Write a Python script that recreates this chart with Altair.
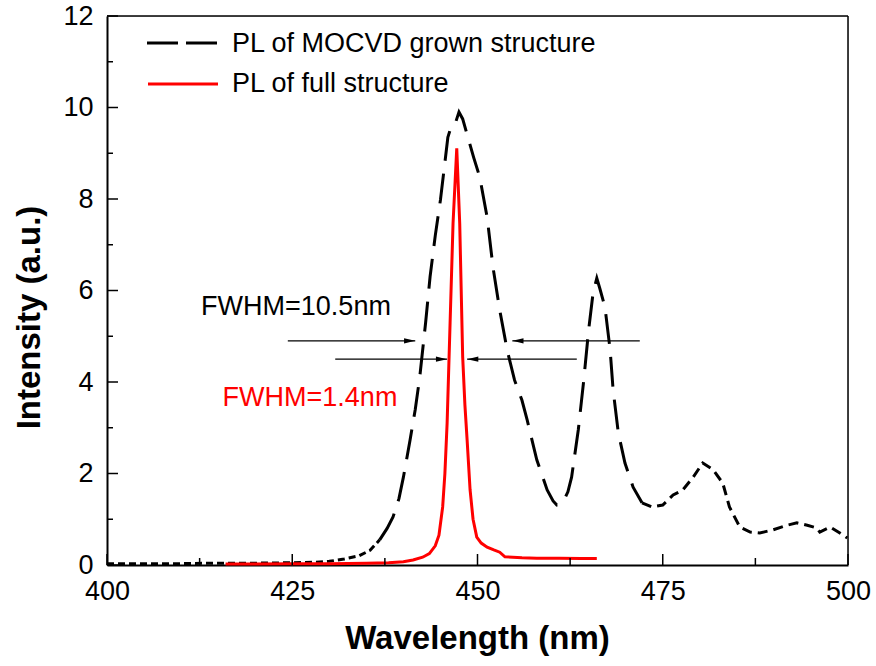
import altair as alt
import pandas as pd

# PL spectrum of the MOCVD grown structure (wavelength in nm, intensity in a.u.)
mocvd_wl = [400, 405, 410, 415, 420, 425, 428, 430, 432, 434, 435.5, 436.8, 437.8,
            438.6, 439.4, 440, 440.9, 441.6, 442.2, 443, 443.6, 444.3, 445, 445.6,
            446, 446.6, 447.1, 447.5, 448, 448.7, 449.5, 450.3, 451.3, 452.1, 453,
            454, 455, 456, 456.7, 458, 459.4, 460.2, 460.7, 461.5, 462.2, 462.7,
            463.6, 464.3, 465, 465.6, 466.1, 466.5, 467.2, 467.9, 468.3, 469, 469.9,
            471, 472.2, 473.5, 475, 476.4, 477.7, 479.1, 480.4, 481.8, 483.1, 484,
            485.4, 486.8, 488.1, 489.9, 491.8, 493.1, 494.5, 495.8, 496.2, 497.6,
            498.9, 499.9]
mocvd_int = [0.03, 0.03, 0.03, 0.04, 0.04, 0.05, 0.06, 0.08, 0.13, 0.2, 0.32, 0.55, 0.8,
             1.05, 1.45, 1.92, 2.73, 3.4, 4.1, 5.3, 6.3, 7.2, 7.98, 8.8,
             9.35, 9.66, 9.7, 9.9, 9.75, 9.35, 8.9, 8.48, 7.6, 6.5, 5.57,
             4.7, 4.04, 3.6, 3.17, 2.3, 1.64, 1.4, 1.31, 1.36, 1.6, 1.92,
             2.95, 3.98, 5.14, 5.95, 6.27, 6.05, 5.64, 4.7, 3.83, 2.89, 2.23,
             1.7, 1.36, 1.27, 1.31, 1.53, 1.64, 1.92, 2.23, 2.08, 1.79, 1.27,
             0.83, 0.72, 0.70, 0.77, 0.87, 0.92, 0.87, 0.81, 0.72, 0.83,
             0.70, 0.59]

# PL spectrum of the full structure
full_wl = [416, 420, 425, 430, 435, 438, 440, 441.3, 442.6, 443.5, 444.3, 444.8, 445.3,
           445.6, 445.9, 446.3, 446.7, 447.2, 447.6, 448.0, 448.3, 448.6, 449, 449.4,
           449.9, 450.5, 451.3, 452.2, 453, 453.7, 456, 458, 461, 464, 466.1]
full_int = [0.02, 0.02, 0.03, 0.03, 0.04, 0.05, 0.07, 0.11, 0.17, 0.25, 0.42, 0.65, 1.27,
            2.0, 3.1, 5.29, 7.47, 9.11, 7.47, 4.55, 3.5, 2.73, 1.64, 1.0,
            0.61, 0.48, 0.39, 0.33, 0.28, 0.18, 0.16, 0.15, 0.15, 0.14, 0.14]

# FWHM markers: arrow row height, tail and tip wavelengths
arrow_y = [4.9, 4.9, 4.5, 4.5]
arrow_from = [424.4, 471.9, 430.8, 463.4]
arrow_to = [441.6, 454.7, 445.9, 448.6]

# FWHM labels
note_text = ["FWHM=10.5nm", "FWHM=1.4nm"]
note_x = [412.7, 415.6]
note_y = [5.64, 3.65]
note_color = ["#000000", "#ff0000"]

legend_labels = ["PL of MOCVD grown structure", "PL of full structure"]

x_major = [400, 425, 450, 475, 500]
x_minor = [412.5, 437.5, 462.5, 487.5]
y_major = [0, 2, 4, 6, 8, 10, 12]
y_minor = [1, 3, 5, 7, 9, 11]

W, H = 741, 549
FONT = "Liberation Sans"

mocvd = pd.DataFrame({"wl": mocvd_wl, "inten": mocvd_int})
full = pd.DataFrame({"wl": full_wl, "inten": full_int})
arrows = pd.DataFrame({"y": arrow_y, "x0": arrow_from, "x1": arrow_to})
arrows["dir"] = ["right" if b > a else "left" for a, b in zip(arrow_from, arrow_to)]
notes = pd.DataFrame({"t": note_text, "x": note_x, "y": note_y, "c": note_color})

xs = alt.Scale(domain=[400, 500], nice=False, zero=False)
ys = alt.Scale(domain=[0, 12], nice=False, zero=False)

x_axis = alt.Axis(values=x_major, grid=False, ticks=False, domain=True, domainWidth=2,
                  domainColor="black", labelFont=FONT, labelFontSize=27, labelColor="black",
                  labelPadding=13, labelFlush=False, title="Wavelength (nm)",
                  titleFont=FONT, titleFontSize=33, titleFontWeight="bold",
                  titleColor="black", titleX=370, titleY=73, titleBaseline="middle")
y_axis = alt.Axis(values=y_major, grid=False, ticks=False, domain=True, domainWidth=2,
                  domainColor="black", labelFont=FONT, labelFontSize=27, labelColor="black",
                  labelPadding=14, labelFlush=False, title="Intensity (a.u.)",
                  titleFont=FONT, titleFontSize=33, titleFontWeight="bold",
                  titleColor="black", titleX=-78, titleY=301, titleAngle=270,
                  titleBaseline="middle")


def X(field):
    return alt.X(field, scale=xs, axis=x_axis)


def Y(field):
    return alt.Y(field, scale=ys, axis=y_axis)


# Dashed MOCVD curve, drawn in three stretches so the dash length follows the slope
def mocvd_part(lo, hi, dash):
    return (alt.Chart(mocvd)
            .transform_filter((alt.datum.wl >= lo) & (alt.datum.wl <= hi))
            .mark_line(color="black", strokeWidth=3, strokeDash=dash)
            .encode(x=X("wl:Q"), y=Y("inten:Q"), order="wl:Q"))

dash_left = mocvd_part(400, 436.8, [7, 4])
dash_mid = mocvd_part(436.8, 472.2, [30, 13])
dash_right = mocvd_part(472.2, 500, [10, 6])

full_line = (alt.Chart(full)
             .mark_line(color="#ff0000", strokeWidth=3)
             .encode(x=X("wl:Q"), y=Y("inten:Q"), order="wl:Q"))

arrow_shafts = (alt.Chart(arrows)
                .mark_rule(color="black", strokeWidth=1.3)
                .encode(x=X("x0:Q"), x2="x1:Q", y=Y("y:Q")))
head_r = "M0,0L-2.8,-0.65L-2.8,0.65Z"
head_l = "M0,0L2.8,-0.65L2.8,0.65Z"
arrow_heads = (alt.Chart(arrows)
               .mark_point(filled=True, size=64, color="black", opacity=1)
               .encode(x=X("x1:Q"), y=Y("y:Q"),
                       shape=alt.Shape("dir:N", scale=alt.Scale(domain=["right", "left"],
                                                                 range=[head_r, head_l]),
                                       legend=None)))

note_marks = (alt.Chart(notes)
              .mark_text(align="left", baseline="middle", font=FONT, fontSize=27)
              .encode(x=X("x:Q"), y=Y("y:Q"),
                      text="t:N", color=alt.Color("c:N", scale=None)))


# Inward-pointing ticks
def tick_layer(vals, length, horizontal):
    df = pd.DataFrame({"v": vals})
    if horizontal:
        enc = dict(x=X("v:Q"), y=alt.value(H), y2=alt.value(H - length))
    else:
        enc = dict(y=Y("v:Q"), x=alt.value(0), x2=alt.value(length))
    return alt.Chart(df).mark_rule(color="black", strokeWidth=1.5).encode(**enc)

ticks = [tick_layer(x_major, 11, True), tick_layer(x_minor, 7, True),
         tick_layer(y_major, 11, False), tick_layer(y_minor, 6, False)]

# Top and right edges of the frame
frame = pd.DataFrame({"edge": ["top", "right"]})
frame_top = (alt.Chart(frame.iloc[[0]]).mark_rule(color="black", strokeWidth=1.5)
             .encode(x=alt.value(0), x2=alt.value(W), y=alt.value(0)))
frame_right = (alt.Chart(frame.iloc[[1]]).mark_rule(color="black", strokeWidth=1.5)
               .encode(x=alt.value(W), y=alt.value(0), y2=alt.value(H)))

# Legend
leg = pd.DataFrame({"label": legend_labels})
leg_dash = (alt.Chart(leg.iloc[[0]])
            .mark_rule(color="black", strokeWidth=3, strokeDash=[31, 8])
            .encode(x=alt.value(40), x2=alt.value(110), y=alt.value(27)))
leg_solid = (alt.Chart(leg.iloc[[1]])
             .mark_rule(color="#ff0000", strokeWidth=3)
             .encode(x=alt.value(41), x2=alt.value(111), y=alt.value(68)))
leg_text1 = (alt.Chart(leg.iloc[[0]])
             .mark_text(align="left", baseline="middle", font=FONT, fontSize=27, color="black")
             .encode(x=alt.value(125), y=alt.value(28), text="label:N"))
leg_text2 = (alt.Chart(leg.iloc[[1]])
             .mark_text(align="left", baseline="middle", font=FONT, fontSize=27, color="black")
             .encode(x=alt.value(125), y=alt.value(68), text="label:N"))

chart = (alt.layer(dash_left, dash_mid, dash_right, full_line, arrow_shafts, arrow_heads,
                   note_marks, *ticks, frame_top, frame_right,
                   leg_dash, leg_solid, leg_text1, leg_text2)
         .properties(width=W, height=H,
                     autosize=alt.AutoSizeParams(type="none"),
                     padding={"left": 107, "top": 16, "right": 28, "bottom": 101})
         .configure_view(stroke=None)
         .configure(background="white"))

chart.save("out.html", embed_options={"renderer": "svg", "actions": False})
